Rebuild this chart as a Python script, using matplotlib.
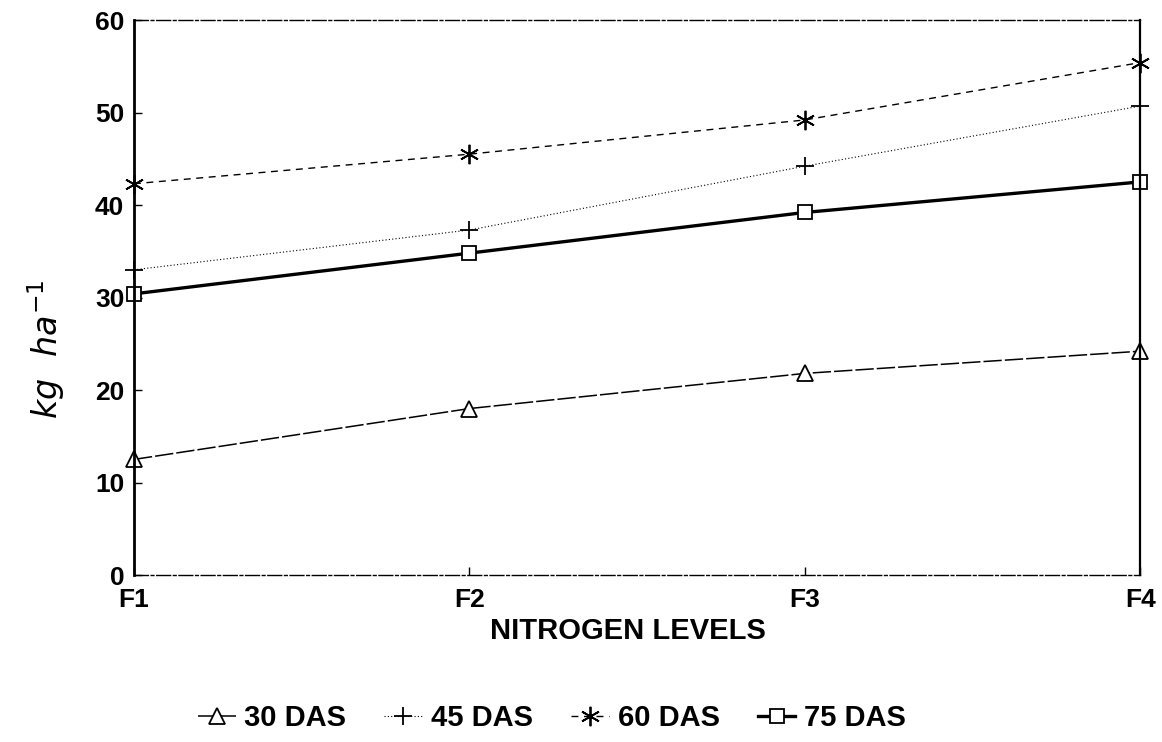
import matplotlib
matplotlib.use("Agg")
import matplotlib.pyplot as plt

levels = ["F1", "F2", "F3", "F4"]
das30 = [12.5, 18.0, 21.8, 24.2]
das45 = [33.0, 37.3, 44.2, 50.7]
das60 = [42.3, 45.5, 49.2, 55.4]
das75 = [30.4, 34.8, 39.2, 42.5]

plt.rcParams["font.family"] = ["Liberation Sans", "DejaVu Sans"]

fig = plt.figure(figsize=(11.62, 7.42), dpi=100)
ax = fig.add_axes([0.1153, 0.225, 0.866, 0.748])
x = range(len(levels))

ax.plot(x, das30, color="black", lw=1.1, ls=(0, (12, 2)), marker="^", ms=11,
        mfc="white", mew=1.3, clip_on=False, label="30 DAS")
ax.plot(x, das45, color="black", lw=0.8, ls=(0, (1, 2)), marker="+", ms=13,
        mew=1.3, clip_on=False, label="45 DAS")
ax.plot(x, das60, color="black", lw=1.0, ls=(0, (5, 4)), marker=(6, 2, 0), ms=14,
        mew=1.3, clip_on=False, label="60 DAS")
ax.plot(x, das75, color="black", lw=2.4, marker="s", ms=10,
        mfc="white", mew=1.3, clip_on=False, label="75 DAS")

ax.set_xlim(0, 3)
ax.set_ylim(0, 60)
ax.set_yticks(range(0, 61, 10))
ax.set_xticks(list(x))
ax.set_xticklabels(levels)
ax.tick_params(direction="in", length=6, width=1, labelsize=19)
for t in ax.get_xticklabels() + ax.get_yticklabels():
    t.set_fontweight("bold")
ax.tick_params(axis="x", pad=9)
ax.tick_params(axis="y", pad=7)

ax.spines["left"].set_linewidth(2)
ax.spines["right"].set_linewidth(1.6)
for s in ("top", "bottom"):
    ax.spines[s].set_linewidth(1.0)
    ax.spines[s].set_linestyle((0, (10, 2, 2, 2)))

ax.set_xlabel("NITROGEN LEVELS", fontsize=21, fontweight="bold")
ax.xaxis.set_label_coords(0.491, -0.075)
fig.text(0.04, 0.53, r"$kg\ \ ha^{-1}$", rotation=90, fontsize=24,
         ha="center", va="center")

fig.legend(loc="center", bbox_to_anchor=(0.475, 0.032), ncol=4, frameon=False,
           handlelength=1.3, handletextpad=0.3, columnspacing=1.3,
           prop={"weight": "bold", "size": 21})

fig.savefig("out.png", dpi=100)
